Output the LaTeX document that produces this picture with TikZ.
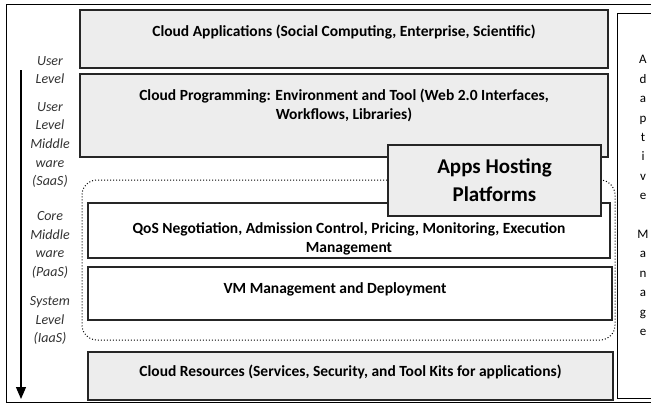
\documentclass[tikz,border=0pt]{standalone}
\usepackage{fontspec}
\setmainfont{Carlito}
\usetikzlibrary{arrows.meta,positioning}

\begin{document}
\begin{tikzpicture}[x=1pt,y=-1pt,>={Triangle[width=10pt,length=12pt]},
  graybox/.style={draw=black!85,line width=1.4pt,fill=black!7,inner sep=0pt},
  whitebox/.style={draw=black!85,line width=1.4pt,fill=white,inner sep=0pt},
  boxtext/.style={font=\bfseries\fontsize{15.5}{19}\selectfont,align=center,inner sep=0pt},
  leveltext/.style={font=\itshape\fontsize{14}{18.7}\selectfont,align=center,text=black!80,inner sep=0pt}]
\useasboundingbox (0,0) rectangle (651,405);
\clip (0,0) rectangle (651,405);
\draw[line width=1pt] (6,4) rectangle (680,402);
% layers
\node[graybox,minimum width=528pt,minimum height=58pt] (apps) at (344,39) {};
\node[boxtext,below=15pt of apps.north] (appst) {Cloud Applications (Social Computing, Enterprise, Scientific)};
\node[graybox,minimum width=528pt,minimum height=83pt] (prog) at (344,115.5) {};
\node[boxtext,below=15pt of prog.north] (progt) {Cloud Programming: Environment and Tool (Web 2.0 Interfaces,\\Workflows, Libraries)};
\node[draw,dotted,line width=1pt,rounded corners=15pt,minimum width=533pt,minimum height=160pt] (plat) at (348.5,260) {};
\node[whitebox,minimum width=522pt,minimum height=55pt] (qos) at (349,230.5) {};
\node[boxtext,below=20pt of qos.north] (qost) {QoS Negotiation, Admission Control, Pricing, Monitoring, Execution\\Management};
\node[whitebox,minimum width=524pt,minimum height=53pt] (vm) at (350,293.5) {};
\node[boxtext,below=16pt of vm.north,xshift=-15pt] (vmt) {VM Management and Deployment};
\node[graybox,minimum width=525pt,minimum height=48pt] (res) at (350.5,376) {};
\node[boxtext,below=13pt of res.north] (rest) {Cloud Resources (Services, Security, and Tool Kits for applications)};
\node[graybox,minimum width=213pt,minimum height=71pt,font=\bfseries\fontsize{21}{28}\selectfont,align=center] (host) at (494.5,180.5) {Apps Hosting\\Platforms};
% adaptive management column
\node[draw,line width=1pt,minimum width=60pt,minimum height=385pt,anchor=north west] (adapt) at (617,13) {};
\node[align=center,inner sep=0pt,font=\fontsize{13}{19.4}\selectfont] (adaptt) at (643,195.5) {A\\d\\a\\p\\t\\i\\v\\e\\[19.4pt]M\\a\\n\\a\\g\\e};
% levels
\coordinate (top) at (21,70);
\coordinate (bot) at (21,399);
\draw[->,line width=1.3pt] (top) -- (bot);
\node[leveltext] (user) at (50,70) {User\\Level};
\node[leveltext] (saas) at (50,145) {User\\Level\\Middle\\ware\\(SaaS)};
\node[leveltext] (paas) at (50,245) {Core\\Middle\\ware\\(PaaS)};
\node[leveltext] (iaas) at (50,320.5) {System\\Level\\(IaaS)};
\end{tikzpicture}
\end{document}
